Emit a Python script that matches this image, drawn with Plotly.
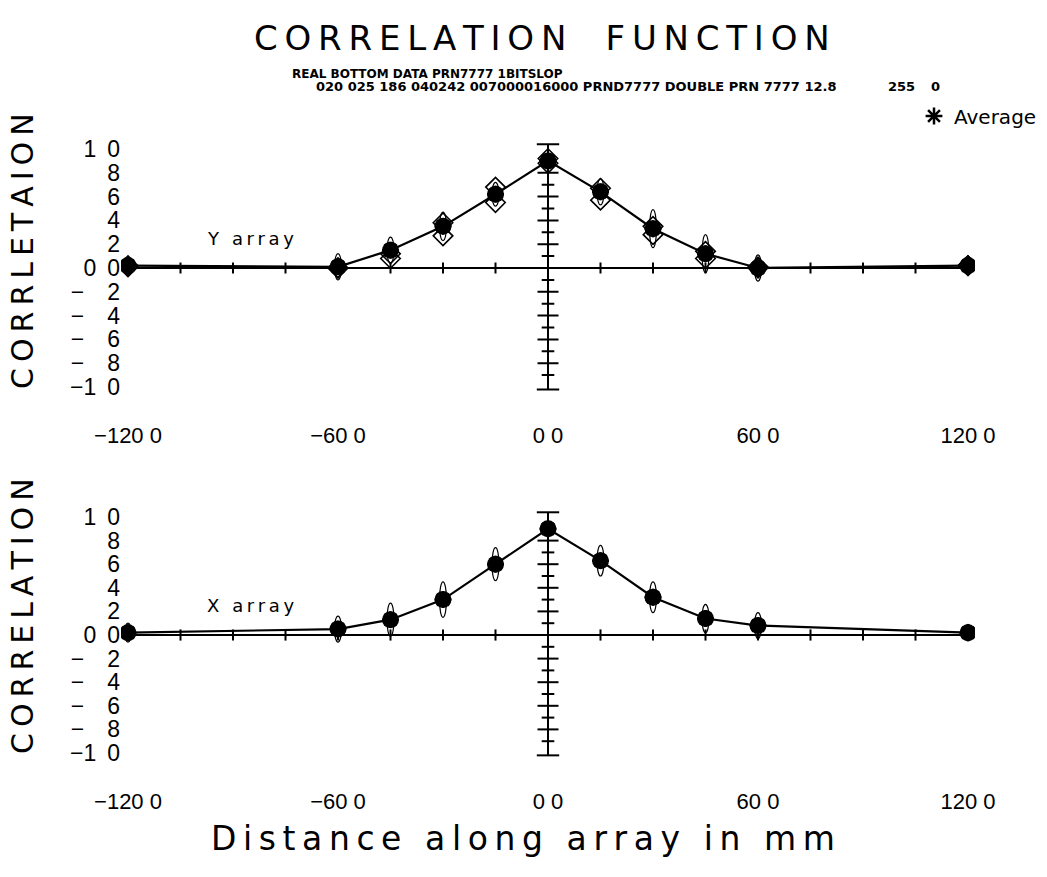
import plotly.graph_objects as go

# ---------------- data ----------------
distance = [-120, -60, -45, -30, -15, 0, 15, 30, 45, 60, 120]

y_avg = [0.02, 0.01, 0.15, 0.35, 0.62, 0.90, 0.64, 0.33, 0.12, 0.0, 0.02]
y_err = [0.06, 0.11, 0.11, 0.12, 0.10, 0.06, 0.11, 0.16, 0.16, 0.11, 0.07]
y_runA = [0.02, 0.00, 0.12, 0.38, 0.68, 0.92, 0.67, 0.35, 0.14, 0.01, 0.02]
y_runB = [0.01, 0.00, 0.08, 0.27, 0.55, 0.88, 0.57, 0.28, 0.08, 0.00, 0.02]

x_avg = [0.02, 0.05, 0.13, 0.30, 0.60, 0.90, 0.63, 0.32, 0.14, 0.08, 0.02]
x_err = [0.08, 0.11, 0.14, 0.15, 0.14, 0.06, 0.13, 0.13, 0.12, 0.11, 0.07]

x_tickvals = [-120, -60, 0, 60, 120]
x_ticktext = ["\u2212120 0", "\u221260 0", "0 0", "60 0", "120 0"]
y_tickvals = [1.0, 0.8, 0.6, 0.4, 0.2, 0.0, -0.2, -0.4, -0.6, -0.8, -1.0]
y_ticktext = ["1\u2009 0", "8", "6", "4", "2", "0\u2009 0",
              "\u2212\u2002\u20022", "\u2212\u2002\u20024", "\u2212\u2002\u20026",
              "\u2212\u2002\u20028", "\u22121\u2009 0"]

x_minor_ticks = [-120, -105, -90, -75, -60, -45, -30, -15, 15, 30, 45, 60, 75, 90, 105, 120]
y_major_ticks = [-0.8, -0.6, -0.4, -0.2, 0.2, 0.4, 0.6, 0.8]
y_minor_ticks = [-0.9, -0.7, -0.5, -0.3, -0.1, 0.1, 0.3, 0.5, 0.7, 0.9]
v_axis_ends = [-1.02, 1.04]
h_axis_ends = [-120, 120]

title_text = "CORRELATION FUNCTION"
sub1 = "REAL BOTTOM DATA PRN7777 1BITSLOP"
sub2 = "020 025 186 040242 007000016000 PRND7777 DOUBLE PRN 7777 12.8"
sub2b = "255"
sub2c = "0"

# ---------------- layout helpers ----------------
W, H = 1047, 877
def sp(s):
    return "\u2009".join(s)
def py(p):
    return 1 - p / H

fig = go.Figure()

TITLEFONT = "DejaVu Sans"
TICKFONT = "Liberation Sans"
BLACK = "black"

def panel(xr, yr, avg, err, runs, label, show_leg):
    fig.add_trace(go.Scatter(x=h_axis_ends, y=[0, 0], mode="lines",
                             line=dict(color=BLACK, width=2), xaxis=xr, yaxis=yr,
                             showlegend=False, hoverinfo="skip"))
    fig.add_trace(go.Scatter(x=[0, 0], y=v_axis_ends, mode="lines+markers",
                             line=dict(color=BLACK, width=2),
                             marker=dict(symbol="line-ew", size=16, color=BLACK,
                                         line=dict(color=BLACK, width=2)),
                             xaxis=xr, yaxis=yr, showlegend=False, hoverinfo="skip"))
    fig.add_trace(go.Scatter(x=x_minor_ticks, y=[0] * len(x_minor_ticks), mode="markers",
                             marker=dict(symbol="line-ns", size=8, color=BLACK,
                                         line=dict(color=BLACK, width=2)),
                             xaxis=xr, yaxis=yr, showlegend=False, hoverinfo="skip"))
    fig.add_trace(go.Scatter(x=[0] * len(y_major_ticks), y=y_major_ticks, mode="markers",
                             marker=dict(symbol="line-ew", size=15, color=BLACK,
                                         line=dict(color=BLACK, width=2)),
                             xaxis=xr, yaxis=yr, showlegend=False, hoverinfo="skip"))
    fig.add_trace(go.Scatter(x=[0] * len(y_minor_ticks), y=y_minor_ticks, mode="markers",
                             marker=dict(symbol="line-ew", size=9, color=BLACK,
                                         line=dict(color=BLACK, width=2)),
                             xaxis=xr, yaxis=yr, showlegend=False, hoverinfo="skip"))
    # error loops
    for xv, yv, ev in zip(distance, avg, err):
        fig.add_shape(type="circle", xref=xr, yref=yr,
                      x0=xv - 1.0, x1=xv + 1.0, y0=yv - ev, y1=yv + ev,
                      line=dict(color=BLACK, width=1.2), layer="above")
    # individual runs (open diamonds)
    for r in runs:
        fig.add_trace(go.Scatter(x=distance, y=r, mode="markers",
                                 marker=dict(symbol="diamond-open", size=15, color=BLACK,
                                             line=dict(color=BLACK, width=1.6)),
                                 xaxis=xr, yaxis=yr, showlegend=False, hoverinfo="skip"))
    # average line + filled markers
    fig.add_trace(go.Scatter(x=distance, y=avg, mode="lines+markers",
                             line=dict(color=BLACK, width=2.2),
                             marker=dict(symbol="circle", size=17, color=BLACK),
                             xaxis=xr, yaxis=yr, showlegend=False, hoverinfo="skip"))
    fig.add_trace(go.Scatter(x=distance, y=avg, mode="markers", name="Average",
                             marker=dict(symbol="asterisk-open", size=14, color=BLACK,
                                         line=dict(color=BLACK, width=2.5)),
                             xaxis=xr, yaxis=yr, showlegend=show_leg))
    fig.add_annotation(x=-85, y=0.25, xref=xr, yref=yr, text=sp(label),
                       xanchor="center", yanchor="middle",
                       showarrow=False, font=dict(family=TITLEFONT, size=18, color=BLACK))

panel("x", "y", y_avg, y_err, [y_runA, y_runB], "Y array", True)
panel("x2", "y2", x_avg, x_err, [], "X array", False)

# axis geometry (pixels -> paper)
x_dom = [121 / W, 975 / W]
top_dom = [py(268 + 1.28 * 119), py(268 - 1.10 * 119)]
bot_dom = [py(635 + 1.28 * 118), py(635 - 1.10 * 118)]

xcommon = dict(range=[-122, 122], showgrid=False, zeroline=False, showline=False,
               ticks="", tickvals=x_tickvals, ticktext=x_ticktext, automargin=False,
               tickfont=dict(family=TICKFONT, size=22, color=BLACK), domain=x_dom)
ycommon = dict(range=[-1.28, 1.10], showgrid=False, zeroline=False, showline=False,
               ticks="", tickvals=y_tickvals, ticktext=y_ticktext, automargin=False,
               tickfont=dict(family=TICKFONT, size=23, color=BLACK))

fig.update_layout(
    width=W, height=H,
    margin=dict(l=0, r=0, t=0, b=0, autoexpand=False),
    paper_bgcolor="white", plot_bgcolor="white",
    xaxis=dict(**xcommon, anchor="y"),
    yaxis=dict(**ycommon, domain=top_dom, anchor="x"),
    xaxis2=dict(**xcommon, anchor="y2"),
    yaxis2=dict(**ycommon, domain=bot_dom, anchor="x2"),
    showlegend=True,
    legend=dict(x=914 / W, y=py(116), xanchor="left", yanchor="middle",
                bgcolor="rgba(0,0,0,0)", font=dict(family=TITLEFONT, size=20, color=BLACK),
                itemwidth=30, tracegroupgap=0),
)

def ann(x, y, text, size, family=TITLEFONT, xanchor="center", angle=0, weight="normal"):
    fig.add_annotation(x=x / W, y=py(y), xref="paper", yref="paper", text=text,
                       xanchor=xanchor, yanchor="middle", textangle=angle,
                       showarrow=False,
                       font=dict(family=family, size=size, color=BLACK, weight=weight))

ann(542, 38, sp(title_text).replace("\u2009 \u2009", "  \u2009 "), 34)
ann(290, 74, sub1, 12, xanchor="left", weight="bold")
ann(314, 87, sub2, 13, xanchor="left", weight="bold")
ann(886, 87, sub2b, 13, xanchor="left", weight="bold")
ann(929, 87, sub2c, 13, xanchor="left", weight="bold")
ann(22, 251, sp("CORRLETAION"), 30, angle=-90)
ann(22, 616, sp("CORRELATION"), 30, angle=-90)
ann(523, 838, sp("Distance along array in mm"), 33)

fig.write_html("out.html")
